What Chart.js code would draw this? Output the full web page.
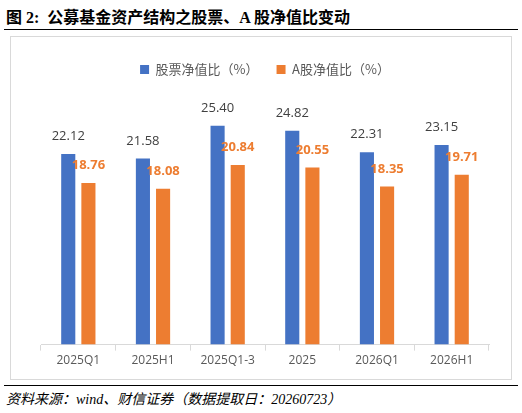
<!DOCTYPE html>
<html>
<head>
<meta charset="utf-8">
<script src="https://cdn.jsdelivr.net/npm/chart.js@4"></script>
<style>
body { margin: 0; width: 522px; height: 413px; background: #fff; overflow: hidden; font-family: "Liberation Serif", "Noto Sans CJK SC", serif; }
#title { position: absolute; left: 6px; top: 4px; font-size: 16px; font-weight: bold; color: #000; }
#topline { position: absolute; left: 4px; width: 514px; top: 29px; border-top: 1.5px solid #000; }
#box { position: absolute; left: 10px; top: 36px; width: 500px; height: 342px; border: 1px solid #d9d9d9; }
#charts { display: block; }
#botline { position: absolute; left: 4px; width: 514px; top: 385px; border-top: 1px solid #000; }
#source { position: absolute; left: 6px; top: 388px; font-size: 14px; font-style: italic; color: #000; }
</style>
</head>
<body>
<div id="title">图 2:&nbsp; 公募基金资产结构之股票、A 股净值比变动</div>
<div id="topline"></div>
<div id="box"><canvas id="charts" width="500" height="342"></canvas></div>
<div id="botline"></div>
<div id="source">资料来源：wind、财信证券（数据提取日：20260723）</div>
<script>
const categories = ['2025Q1', '2025H1', '2025Q1-3', '2025', '2026Q1', '2026H1']
const stockRatio = [22.12, 21.58, 25.40, 24.82, 22.31, 23.15]
const aShareRatio = [18.76, 18.08, 20.84, 20.55, 18.35, 19.71]

// draw value labels above each bar
const valueLabels = {
    id: 'valueLabels',
    afterDatasetsDraw(chart) {
        const ctx = chart.ctx
        chart.data.datasets.forEach((ds, i) => {
            chart.getDatasetMeta(i).data.forEach((bar, j) => {
                ctx.save()
                ctx.font = (i == 1 ? 'bold ' : '') + '13px "Open Sans", sans-serif'
                ctx.fillStyle = i == 1 ? '#ED7D31' : '#404040'
                ctx.textAlign = 'center'
                ctx.textBaseline = 'bottom'
                ctx.fillText(ds.data[j].toFixed(2), bar.x, bar.y - 11)
                ctx.restore()
            })
        })
    }
}

var ctx = document.getElementById('charts').getContext('2d')
var chart = new Chart(ctx, {
    type: 'bar',
    data: {
        labels: categories,
        datasets: [{
            label: '股票净值比（%）',
            data: stockRatio,
            backgroundColor: '#4472C4',
            barPercentage: 0.7,
            categoryPercentage: 0.54
        }, {
            label: 'A股净值比（%）',
            data: aShareRatio,
            backgroundColor: '#ED7D31',
            barPercentage: 0.7,
            categoryPercentage: 0.54
        }]
    },
    options: {
        responsive: false,
        animation: false,
        layout: { padding: { left: 30, right: 22, top: 8, bottom: 8 } },
        plugins: {
            legend: {
                labels: { boxWidth: 9, boxHeight: 9, font: { size: 13, family: '"Noto Sans CJK SC", sans-serif' }, color: '#595959', padding: 18 }
            },
            tooltip: { enabled: false }
        },
        scales: {
            x: {
                grid: { display: true, drawOnChartArea: false, offset: true, color: '#d9d9d9', tickLength: 6 },
                border: { color: '#d9d9d9' },
                ticks: { color: '#595959', font: { size: 12, family: '"Open Sans", sans-serif' } }
            },
            y: {
                display: false,
                min: 0,
                max: 30
            }
        }
    },
    plugins: [valueLabels]
})
</script>
</body>
</html>
